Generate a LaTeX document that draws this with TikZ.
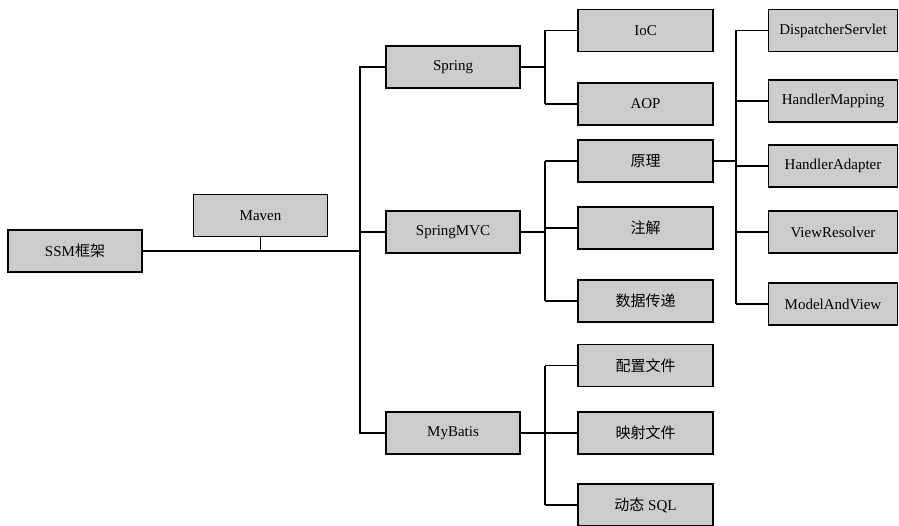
\documentclass[tikz,border=0pt]{standalone}
\usepackage{fontspec}
\setmainfont{Liberation Serif}
\newfontfamily\cjk{Noto Sans CJK SC}
\usepackage{tikz}
\usetikzlibrary{positioning}
\usetikzlibrary{calc}
\definecolor{boxgray}{RGB}{204,204,204}
\tikzset{
    box/.style={draw, line width=1.3pt, fill=boxgray, minimum width=134pt, minimum height=42pt, inner sep=0pt, font=\fontsize{15}{17}\selectfont},
    wide/.style={box, minimum width=135pt},
    leaf/.style={box, minimum width=129pt},
    link/.style={line width=1.1pt}
}
\begin{document}
\begin{tikzpicture}[x=1pt, y=-1pt]
    \useasboundingbox (0,0) rectangle (899,526);

    % root and level one
    \node[box] (ssm) at (75,251) {SSM{\cjk 框架}};
    \node[box] (maven) at (260.5,215.5) {Maven};
    \node[box] (spring) at (453,67) {Spring};
    \node[box] (springmvc) at (453,232) {SpringMVC};
    \node[box] (mybatis) at (453,433) {MyBatis};

    % level two
    \node[wide] (ioc) at (645.5,30.5) {IoC};
    \node[wide] (aop) at (645.5,104) {AOP};
    \node[wide] (yuanli) at (645.5,161) {\cjk 原理};
    \node[wide] (zhujie) at (645.5,228) {\cjk 注解};
    \node[wide] (shuju) at (645.5,301) {\cjk 数据传递};
    \node[wide] (peizhi) at (645.5,365.5) {\cjk 配置文件};
    \node[wide] (yingshe) at (645.5,433) {\cjk 映射文件};
    \node[wide] (dongtai) at (645.5,505) {{\cjk 动态} SQL};

    % level three
    \node[leaf] (ds) at (833,30.5) {DispatcherServlet};
    \node[leaf] (hm) at (833,101) {HandlerMapping};
    \node[leaf] (ha) at (833,166) {HandlerAdapter};
    \node[leaf] (vr) at (833,232) {ViewResolver};
    \node[leaf] (mv) at (833,304) {ModelAndView};

    % trunk
    \coordinate (t1) at (360,0);
    \draw[link] (ssm.east) -- (ssm.east -| t1);
    \draw[link] (maven.south) -- (maven.south |- ssm.east);
    \draw[link] (spring.west) -| (t1 |- mybatis.west) -- (mybatis.west);
    \draw[link] (springmvc.west) -- (springmvc.west -| t1);

    % branches
    \coordinate (t2) at (545,0);
    \coordinate (t3) at (736,0);
    \foreach \p/\first/\last/\t/\kids in {spring/ioc/aop/t2/{ioc,aop},
        springmvc/yuanli/shuju/t2/{yuanli,zhujie,shuju},
        mybatis/peizhi/dongtai/t2/{peizhi,yingshe,dongtai},
        yuanli/ds/mv/t3/{ds,hm,ha,vr,mv}}{
        \draw[link] (\p.east) -- (\p.east -| \t);
        \draw[link] (\first.west -| \t) -- (\last.west -| \t);
        \foreach \k in \kids
            \draw[link] (\k.west) -- (\k.west -| \t);
    }
\end{tikzpicture}
\end{document}
